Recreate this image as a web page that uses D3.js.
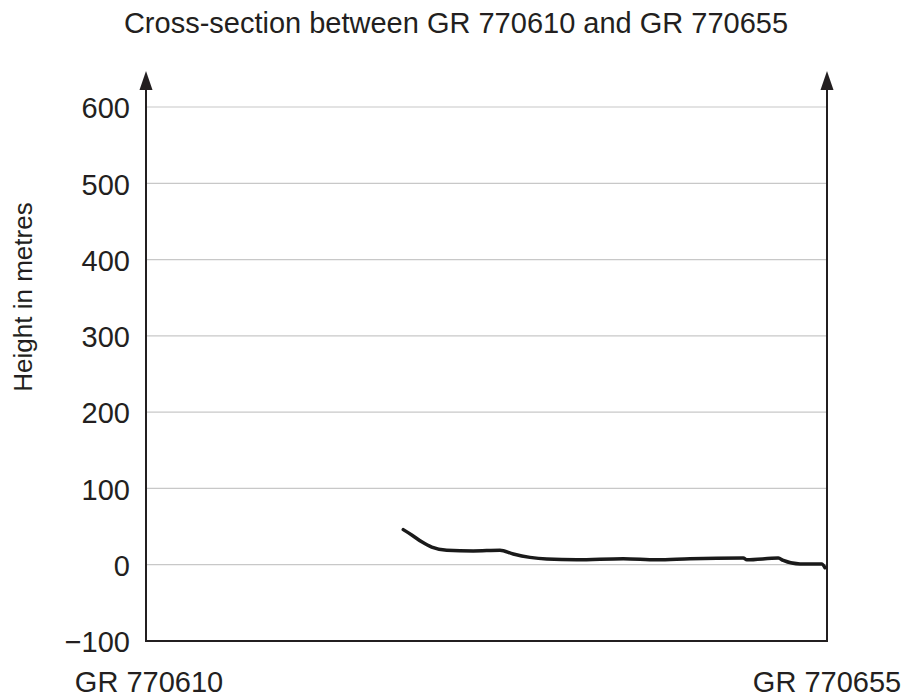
<!DOCTYPE html>
<html><head><meta charset="utf-8">
<script src="https://cdn.jsdelivr.net/npm/d3@7"></script>
<style>body{margin:0;background:#fff}svg{display:block}text{font-family:Arial,"Liberation Sans",sans-serif;fill:#231f20}</style>
</head><body>
<svg id="c" width="906" height="700"></svg>
<script>
const title = "Cross-section between GR 770610 and GR 770655";
const yLabel = "Height in metres";
const startLabel = "GR 770610";
const endLabel = "GR 770655";
const yTicks = [-100, 0, 100, 200, 300, 400, 500, 600];
const distance = [1700, 1756, 1822, 1888, 1987, 2162, 2339, 2427, 2537, 2648, 2846, 3154, 3375, 3595, 3947, 3970, 4178, 4211, 4322, 4465, 4487];
const height = [46, 39, 30, 23, 19, 18, 19, 14, 9.6, 7.4, 6.5, 7.9, 6.5, 7.9, 8.7, 6.5, 8.7, 5.6, 0.9, 0.9, -4];

(function () {
const svg = d3.select("#c");
const L = 146, R = 827, B = 641, T = 107;
const x = d3.scaleLinear().domain([0, 4500]).range([L, R]);
const y = d3.scaleLinear().domain([-100, 600]).range([B, T]);
const ink = "#231f20";

svg.append("text").attr("x", 456).attr("y", 33).attr("text-anchor", "middle")
  .style("font-size", "29px").text(title);

// gridlines
svg.append("g").selectAll("line").data(yTicks.filter(d => d > -100)).join("line")
  .attr("x1", L).attr("x2", R).attr("y1", d => y(d)).attr("y2", d => y(d))
  .attr("stroke", "#c8c8c8").attr("stroke-width", 1.2);

// y axis tick labels
const ax = svg.append("g").attr("transform", `translate(${L},0)`)
  .call(d3.axisLeft(y).tickValues(yTicks).tickSize(0).tickPadding(16)
    .tickFormat(d => d < 0 ? "\u2212" + Math.abs(d) : d));
ax.select(".domain").remove();
ax.selectAll("text").style("font-size", "29px").style("font-family", "Arial, 'Liberation Sans', sans-serif")
  .attr("fill", ink).attr("dy", "0.37em");

// axes lines
const axTop = 88;
svg.append("path").attr("d", `M${L},${axTop} V${B} H${R} V${axTop}`)
  .attr("fill", "none").attr("stroke", ink).attr("stroke-width", 2);
[L, R].forEach(px => {
  svg.append("path").attr("d", `M${px},71 L${px-6.5},${axTop+2} L${px+6.5},${axTop+2} Z`).attr("fill", ink);
});

// profile
svg.append("path").datum(distance.map((d, i) => [d, height[i]]))
  .attr("d", d3.line().x(d => x(d[0])).y(d => y(d[1])).curve(d3.curveMonotoneX))
  .attr("fill", "none").attr("stroke", "#1a1a1a").attr("stroke-width", 3.5)
  .attr("stroke-linecap", "round").attr("stroke-linejoin", "round");

svg.append("text").attr("transform", `translate(32,297) rotate(-90)`).attr("text-anchor", "middle")
  .style("font-size", "26px").text(yLabel);
svg.append("text").attr("x", x(0) + 3).attr("y", 692).attr("text-anchor", "middle").style("font-size", "29px").text(startLabel);
svg.append("text").attr("x", x(4500)).attr("y", 692).attr("text-anchor", "middle").style("font-size", "29px").text(endLabel);
})();
</script>
</body></html>
